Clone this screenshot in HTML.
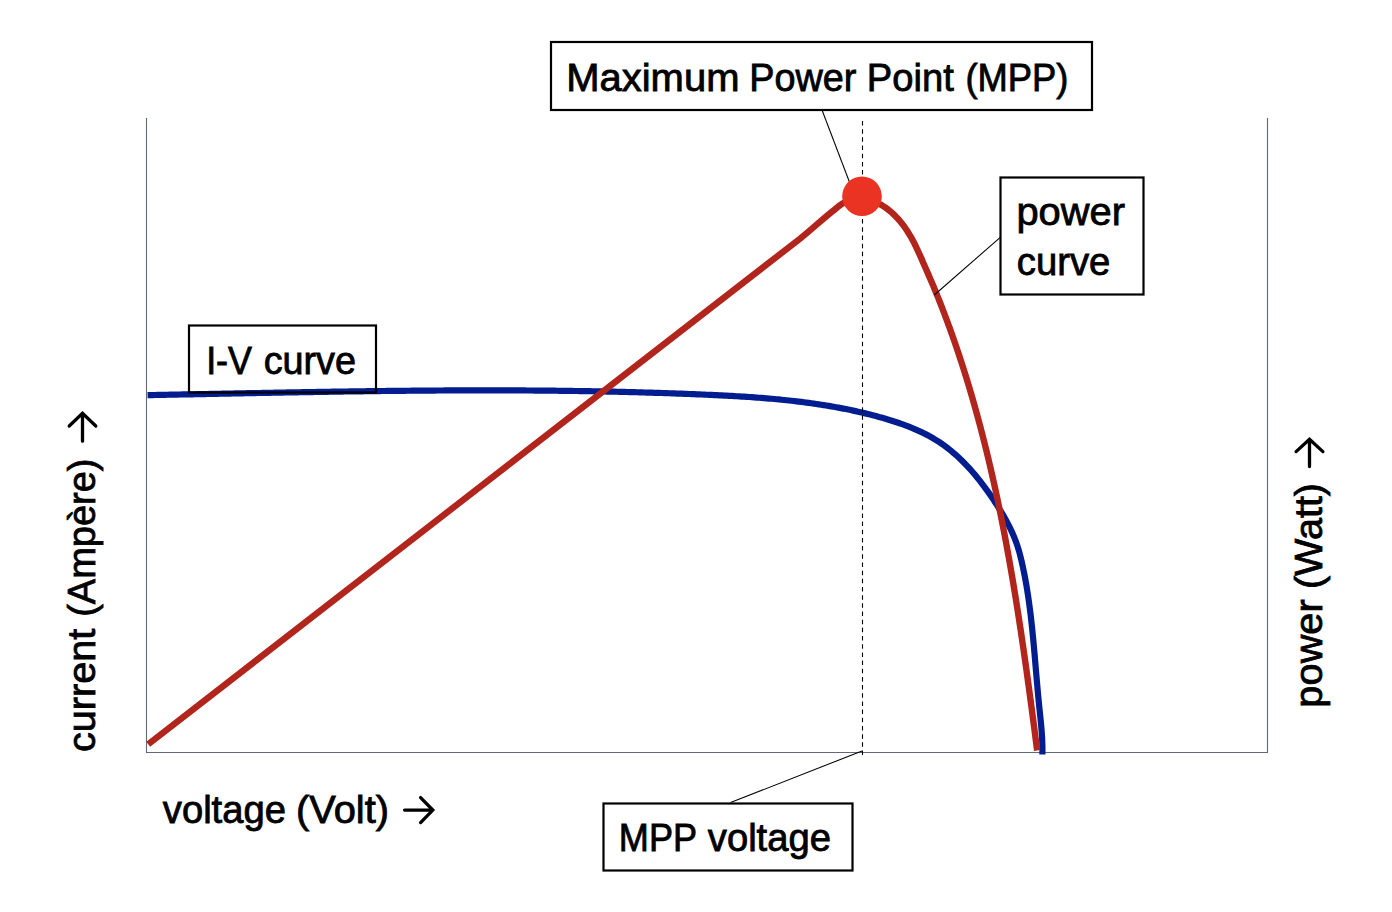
<!DOCTYPE html>
<html><head><meta charset="utf-8"><title>MPP diagram</title>
<style>
html,body{margin:0;padding:0;background:#fff;}
body{width:1392px;height:912px;position:relative;overflow:hidden;font-family:"Liberation Sans", sans-serif;}
</style></head><body>
<svg width="1392" height="912" viewBox="0 0 1392 912" style="position:absolute;left:0;top:0">
<g font-family='"Liberation Sans", sans-serif' fill="#000">
<path d="M146.5,118 V752.5 H1267.5 V118" fill="none" stroke="#5E6A7A" stroke-width="1.1"/>
<path d="M147.57,395.13 L150.07,395.09 L152.56,395.04 L155.06,394.99 L157.56,394.95 L160.06,394.90 L162.55,394.85 L165.05,394.80 L167.55,394.76 L170.04,394.71 L172.54,394.66 L175.04,394.61 L177.53,394.57 L180.03,394.52 L182.53,394.47 L185.02,394.42 L187.52,394.37 L190.02,394.33 L192.51,394.28 L195.01,394.23 L197.51,394.18 L200.00,394.13 L202.50,394.08 L205.00,394.04 L207.49,393.99 L209.99,393.94 L212.49,393.89 L214.98,393.84 L217.48,393.79 L219.98,393.74 L222.47,393.70 L224.97,393.65 L227.47,393.60 L229.96,393.55 L232.46,393.50 L234.96,393.45 L237.46,393.41 L239.95,393.36 L242.45,393.31 L244.95,393.26 L247.44,393.21 L249.94,393.17 L252.44,393.12 L254.93,393.07 L257.43,393.02 L259.93,392.98 L262.42,392.93 L264.92,392.88 L267.42,392.84 L269.91,392.79 L272.41,392.74 L274.91,392.70 L277.40,392.65 L279.90,392.61 L282.40,392.56 L284.89,392.52 L287.39,392.47 L289.89,392.43 L292.38,392.38 L294.88,392.34 L297.38,392.29 L299.88,392.25 L302.37,392.21 L304.87,392.16 L307.37,392.12 L309.86,392.08 L312.36,392.04 L314.86,392.00 L317.35,391.95 L319.85,391.91 L322.35,391.87 L324.84,391.83 L327.34,391.79 L329.84,391.75 L332.33,391.71 L334.83,391.67 L337.33,391.64 L339.83,391.60 L342.32,391.56 L344.82,391.52 L347.32,391.49 L349.81,391.45 L352.31,391.41 L354.81,391.38 L357.30,391.34 L359.80,391.31 L362.30,391.28 L364.80,391.24 L367.29,391.21 L369.79,391.18 L372.29,391.14 L374.78,391.11 L377.28,391.08 L379.78,391.05 L382.27,391.02 L384.77,390.99 L387.27,390.96 L389.77,390.94 L392.26,390.91 L394.76,390.88 L397.26,390.85 L399.75,390.83 L402.25,390.80 L404.75,390.78 L407.25,390.75 L409.74,390.73 L412.24,390.71 L414.74,390.69 L417.23,390.66 L419.73,390.64 L422.23,390.62 L424.73,390.60 L427.22,390.59 L429.72,390.57 L432.22,390.55 L434.71,390.53 L437.21,390.52 L439.71,390.50 L442.21,390.49 L444.70,390.47 L447.20,390.46 L449.70,390.45 L452.19,390.44 L454.69,390.43 L457.19,390.42 L459.69,390.41 L462.18,390.40 L464.68,390.39 L467.18,390.38 L469.68,390.38 L472.17,390.37 L474.67,390.37 L477.17,390.37 L479.66,390.36 L482.16,390.36 L484.66,390.36 L487.16,390.36 L489.65,390.36 L492.15,390.36 L494.65,390.37 L497.14,390.37 L499.64,390.38 L502.14,390.38 L504.64,390.39 L507.13,390.39 L509.63,390.40 L512.13,390.41 L514.63,390.42 L517.12,390.43 L519.62,390.45 L522.12,390.46 L524.61,390.47 L527.11,390.49 L529.61,390.50 L532.11,390.52 L534.60,390.54 L537.10,390.56 L539.60,390.58 L542.09,390.60 L544.59,390.62 L547.09,390.65 L549.59,390.67 L552.08,390.70 L554.58,390.72 L557.08,390.75 L559.57,390.78 L562.07,390.81 L564.57,390.84 L567.07,390.88 L569.56,390.91 L572.06,390.94 L574.56,390.98 L577.05,391.02 L579.55,391.05 L582.05,391.09 L584.54,391.13 L587.04,391.18 L589.54,391.22 L592.03,391.26 L594.53,391.31 L597.03,391.35 L599.52,391.40 L602.02,391.45 L604.52,391.50 L607.02,391.55 L609.51,391.61 L612.01,391.66 L614.51,391.72 L617.00,391.77 L619.50,391.83 L621.99,391.89 L624.49,391.95 L626.99,392.01 L629.48,392.08 L631.98,392.14 L634.48,392.21 L636.97,392.27 L639.47,392.34 L641.97,392.41 L644.46,392.48 L646.96,392.56 L649.45,392.63 L651.95,392.71 L654.45,392.78 L656.94,392.86 L659.44,392.94 L661.93,393.02 L664.43,393.10 L666.93,393.19 L669.42,393.27 L671.92,393.36 L674.41,393.45 L676.91,393.54 L679.40,393.63 L681.90,393.72 L684.40,393.82 L686.89,393.91 L689.39,394.01 L691.88,394.11 L694.38,394.21 L696.87,394.31 L699.37,394.42 L701.86,394.52 L704.36,394.63 L706.85,394.74 L709.35,394.85 L711.84,394.96 L714.34,395.08 L716.83,395.19 L719.32,395.31 L721.82,395.44 L724.31,395.56 L726.81,395.69 L729.30,395.83 L731.79,395.96 L734.29,396.10 L736.78,396.25 L739.27,396.39 L741.77,396.55 L744.26,396.70 L746.75,396.87 L749.24,397.03 L751.73,397.20 L754.22,397.38 L756.71,397.56 L759.20,397.75 L761.69,397.94 L764.18,398.14 L766.67,398.34 L769.16,398.55 L771.65,398.77 L774.14,399.00 L776.62,399.23 L779.11,399.46 L781.59,399.71 L784.08,399.96 L786.56,400.22 L789.05,400.48 L791.53,400.76 L794.01,401.04 L796.49,401.33 L798.97,401.63 L801.45,401.93 L803.92,402.25 L806.40,402.57 L808.88,402.90 L811.35,403.24 L813.82,403.60 L816.29,403.96 L818.76,404.33 L821.23,404.71 L823.70,405.10 L826.16,405.49 L828.63,405.90 L831.09,406.33 L833.55,406.76 L836.00,407.20 L838.46,407.65 L840.91,408.11 L843.37,408.59 L845.82,409.08 L848.26,409.57 L850.71,410.08 L853.15,410.60 L855.59,411.14 L858.03,411.68 L860.46,412.24 L862.89,412.81 L865.32,413.39 L867.75,413.99 L870.17,414.60 L872.59,415.22 L875.00,415.85 L877.41,416.50 L879.82,417.16 L882.23,417.84 L884.63,418.52 L887.02,419.23 L889.41,419.95 L891.80,420.69 L894.18,421.45 L896.55,422.22 L898.92,423.02 L901.28,423.84 L903.63,424.69 L905.97,425.56 L908.30,426.45 L910.62,427.37 L912.93,428.32 L915.23,429.29 L917.52,430.30 L919.79,431.34 L922.04,432.40 L924.28,433.51 L926.51,434.64 L928.71,435.81 L930.90,437.02 L933.07,438.26 L935.21,439.54 L937.33,440.86 L939.43,442.22 L941.50,443.61 L943.54,445.05 L945.56,446.52 L947.55,448.03 L949.51,449.57 L951.45,451.15 L953.36,452.76 L955.25,454.39 L957.11,456.06 L958.94,457.75 L960.75,459.48 L962.53,461.22 L964.30,462.99 L966.03,464.79 L967.74,466.60 L969.43,468.44 L971.10,470.30 L972.75,472.18 L974.37,474.08 L975.97,475.99 L977.56,477.93 L979.12,479.87 L980.66,481.84 L982.18,483.82 L983.69,485.81 L985.17,487.82 L986.64,489.84 L988.09,491.87 L989.53,493.91 L990.95,495.97 L992.35,498.03 L993.74,500.11 L995.11,502.20 L996.47,504.29 L997.82,506.39 L999.14,508.51 L1000.45,510.63 L1001.75,512.77 L1003.02,514.92 L1004.26,517.08 L1005.49,519.26 L1006.69,521.45 L1007.86,523.66 L1009.00,525.88 L1010.11,528.12 L1011.18,530.37 L1012.23,532.64 L1013.23,534.93 L1014.20,537.23 L1015.12,539.55 L1016.01,541.88 L1016.84,544.24 L1017.64,546.60 L1018.38,548.99 L1019.09,551.38 L1019.75,553.79 L1020.38,556.21 L1020.98,558.63 L1021.55,561.06 L1022.11,563.50 L1022.65,565.93 L1023.17,568.38 L1023.68,570.82 L1024.18,573.27 L1024.66,575.72 L1025.12,578.17 L1025.57,580.63 L1026.01,583.09 L1026.44,585.55 L1026.85,588.01 L1027.25,590.48 L1027.64,592.94 L1028.01,595.41 L1028.38,597.88 L1028.73,600.35 L1029.08,602.83 L1029.42,605.30 L1029.74,607.78 L1030.06,610.25 L1030.37,612.73 L1030.67,615.21 L1030.96,617.69 L1031.24,620.17 L1031.52,622.66 L1031.79,625.14 L1032.05,627.62 L1032.31,630.11 L1032.56,632.59 L1032.81,635.07 L1033.05,637.56 L1033.29,640.05 L1033.52,642.53 L1033.75,645.02 L1033.98,647.51 L1034.20,649.99 L1034.42,652.48 L1034.64,654.97 L1034.85,657.46 L1035.07,659.94 L1035.28,662.43 L1035.49,664.92 L1035.70,667.41 L1035.91,669.90 L1036.12,672.39 L1036.34,674.87 L1036.55,677.36 L1036.76,679.85 L1036.98,682.34 L1037.20,684.83 L1037.42,687.31 L1037.64,689.80 L1037.87,692.29 L1038.10,694.77 L1038.34,697.26 L1038.58,699.75 L1038.82,702.23 L1039.07,704.72 L1039.32,707.20 L1039.58,709.68 L1039.84,712.17 L1040.10,714.65 L1040.36,717.13 L1040.61,719.62 L1040.86,722.10 L1041.09,724.59 L1041.31,727.08 L1041.52,729.57 L1041.71,732.06 L1041.89,734.55 L1042.04,737.04 L1042.17,739.53 L1042.28,742.03 L1042.36,744.52 L1042.41,747.02 L1042.44,749.52 L1042.43,752.02 L1042.39,754.51" fill="none" stroke="#021D8F" stroke-width="6.2" stroke-linejoin="round"/>
<path d="M148.2,744.2 L800,238.7 C812,229.4 825,216.6 835,209.3 L836.56,207.98 L838.46,206.36 L840.46,204.87 L842.55,203.52 L844.74,202.32 L847.01,201.29 L849.35,200.42 L851.75,199.74 L854.19,199.24 L856.67,198.92 L859.16,198.78 L861.65,198.82 L864.14,199.03 L866.60,199.39 L869.04,199.92 L871.45,200.58 L873.81,201.39 L876.12,202.33 L878.38,203.38 L880.58,204.55 L882.73,205.82 L884.83,207.17 L886.86,208.62 L888.84,210.14 L890.76,211.73 L892.62,213.39 L894.43,215.11 L896.18,216.88 L897.88,218.71 L899.53,220.58 L901.12,222.50 L902.66,224.46 L904.15,226.46 L905.59,228.50 L906.98,230.57 L908.32,232.68 L909.62,234.81 L910.88,236.96 L912.10,239.14 L913.28,241.34 L914.42,243.55 L915.54,245.78 L916.63,248.03 L917.70,250.28 L918.74,252.55 L919.77,254.82 L920.79,257.10 L921.79,259.38 L922.79,261.67 L923.78,263.96 L924.77,266.25 L925.77,268.54 L926.76,270.82 L927.76,273.11 L928.76,275.40 L929.75,277.68 L930.74,279.97 L931.73,282.27 L932.71,284.56 L933.68,286.86 L934.64,289.16 L935.60,291.46 L936.54,293.77 L937.48,296.09 L938.41,298.40 L939.33,300.72 L940.24,303.04 L941.15,305.36 L942.06,307.69 L942.95,310.02 L943.85,312.35 L944.73,314.68 L945.61,317.01 L946.49,319.35 L947.35,321.69 L948.22,324.03 L949.07,326.37 L949.93,328.72 L950.77,331.06 L951.61,333.41 L952.44,335.76 L953.27,338.12 L954.10,340.47 L954.91,342.83 L955.73,345.19 L956.53,347.55 L957.33,349.91 L958.13,352.28 L958.92,354.64 L959.70,357.01 L960.48,359.38 L961.25,361.75 L962.02,364.13 L962.79,366.50 L963.54,368.88 L964.30,371.26 L965.04,373.64 L965.79,376.02 L966.52,378.40 L967.25,380.79 L967.98,383.17 L968.70,385.56 L969.42,387.95 L970.13,390.34 L970.84,392.73 L971.54,395.13 L972.24,397.52 L972.93,399.92 L973.61,402.32 L974.30,404.72 L974.97,407.12 L975.65,409.52 L976.31,411.93 L976.98,414.33 L977.64,416.74 L978.29,419.14 L978.94,421.55 L979.58,423.96 L980.22,426.37 L980.86,428.79 L981.49,431.20 L982.12,433.62 L982.74,436.03 L983.35,438.45 L983.97,440.87 L984.58,443.29 L985.18,445.71 L985.78,448.13 L986.38,450.55 L986.97,452.97 L987.56,455.40 L988.14,457.82 L988.72,460.25 L989.29,462.68 L989.86,465.11 L990.43,467.54 L990.99,469.97 L991.55,472.40 L992.11,474.83 L992.66,477.26 L993.21,479.70 L993.75,482.13 L994.29,484.57 L994.83,487.00 L995.36,489.44 L995.89,491.88 L996.41,494.32 L996.93,496.76 L997.45,499.20 L997.96,501.64 L998.47,504.08 L998.98,506.52 L999.48,508.97 L999.98,511.41 L1000.48,513.86 L1000.97,516.30 L1001.46,518.75 L1001.95,521.19 L1002.43,523.64 L1002.91,526.09 L1003.39,528.54 L1003.86,530.99 L1004.33,533.44 L1004.80,535.89 L1005.27,538.34 L1005.73,540.79 L1006.18,543.24 L1006.64,545.70 L1007.09,548.15 L1007.54,550.60 L1007.99,553.06 L1008.43,555.51 L1008.87,557.97 L1009.31,560.43 L1009.74,562.88 L1010.17,565.34 L1010.60,567.80 L1011.03,570.25 L1011.46,572.71 L1011.88,575.17 L1012.30,577.63 L1012.71,580.09 L1013.13,582.55 L1013.54,585.01 L1013.95,587.47 L1014.35,589.93 L1014.76,592.40 L1015.16,594.86 L1015.56,597.32 L1015.96,599.78 L1016.35,602.25 L1016.74,604.71 L1017.13,607.17 L1017.52,609.64 L1017.91,612.10 L1018.29,614.57 L1018.67,617.03 L1019.05,619.50 L1019.43,621.96 L1019.81,624.43 L1020.18,626.90 L1020.56,629.36 L1020.93,631.83 L1021.29,634.30 L1021.66,636.77 L1022.03,639.23 L1022.39,641.70 L1022.75,644.17 L1023.11,646.64 L1023.47,649.11 L1023.83,651.58 L1024.18,654.05 L1024.54,656.52 L1024.89,658.99 L1025.24,661.46 L1025.59,663.93 L1025.93,666.40 L1026.28,668.87 L1026.63,671.34 L1026.97,673.81 L1027.31,676.28 L1027.65,678.75 L1027.99,681.22 L1028.33,683.69 L1028.67,686.17 L1029.01,688.64 L1029.34,691.11 L1029.68,693.58 L1030.01,696.05 L1030.34,698.53 L1030.67,701.00 L1031.00,703.47 L1031.33,705.94 L1031.66,708.42 L1031.99,710.89 L1032.32,713.36 L1032.64,715.84 L1032.97,718.31 L1033.29,720.78 L1033.62,723.26 L1033.94,725.73 L1034.26,728.21 L1034.59,730.68 L1034.91,733.15 L1035.23,735.63 L1035.55,738.10 L1035.87,740.57 L1036.19,743.05 L1036.51,745.52 L1036.83,748.00 L1037.15,750.47" fill="none" stroke="#B2251D" stroke-width="6.4" stroke-linejoin="round"/>
<path d="M822,110 L850,183.5" stroke="#000" stroke-width="1.05" fill="none"/>
<path d="M1000,237.6 L934.3,295" stroke="#000" stroke-width="1.05" fill="none"/>
<path d="M730.6,802.5 L862,751" stroke="#000" stroke-width="1.05" fill="none"/>
<line x1="862.5" y1="121" x2="862.5" y2="755" stroke="#000" stroke-width="1.1" stroke-dasharray="4.5 3.675"/>
<circle cx="862" cy="196.3" r="19.8" fill="#EB3323"/>
<rect x="551" y="42" width="541" height="68" fill="none" stroke="#000" stroke-width="2.2"/>
<rect x="1000.5" y="177.5" width="143" height="117" fill="none" stroke="#000" stroke-width="2.2"/>
<rect x="189" y="325.5" width="187" height="67" fill="none" stroke="#000" stroke-width="2.2"/>
<rect x="603.5" y="803.5" width="249" height="67" fill="none" stroke="#000" stroke-width="2.2"/>
<text x="566.22" y="91.00" font-size="38.0" textLength="173.24" lengthAdjust="spacingAndGlyphs" stroke="#000" stroke-width="0.8">Maximum</text>
<text x="749.19" y="91.00" font-size="38.0" textLength="107.07" lengthAdjust="spacingAndGlyphs" stroke="#000" stroke-width="0.8">Power</text>
<text x="866.87" y="91.00" font-size="38.0" textLength="86.94" lengthAdjust="spacingAndGlyphs" stroke="#000" stroke-width="0.8">Point</text>
<text x="965.43" y="91.00" font-size="38.0" textLength="103.06" lengthAdjust="spacingAndGlyphs" stroke="#000" stroke-width="0.8">(MPP)</text>
<text x="1016.46" y="225.00" font-size="38.0" textLength="108.58" lengthAdjust="spacingAndGlyphs" stroke="#000" stroke-width="0.8">power</text>
<text x="1016.82" y="274.80" font-size="38.0" textLength="93.53" lengthAdjust="spacingAndGlyphs" stroke="#000" stroke-width="0.8">curve</text>
<text x="206.14" y="373.80" font-size="38.0" textLength="45.92" lengthAdjust="spacingAndGlyphs" stroke="#000" stroke-width="0.8">I-V</text>
<text x="263.63" y="373.80" font-size="38.0" textLength="92.40" lengthAdjust="spacingAndGlyphs" stroke="#000" stroke-width="0.8">curve</text>
<text x="162.80" y="822.50" font-size="38.0" textLength="123.15" lengthAdjust="spacingAndGlyphs" stroke="#000" stroke-width="0.8">voltage</text>
<text x="296.06" y="822.50" font-size="38.0" textLength="92.91" lengthAdjust="spacingAndGlyphs" stroke="#000" stroke-width="0.8">(Volt)</text>
<path d="M404.6,810.1 H431.8 M420.6,797.6 L432.8,810.1 L420.6,822.6" fill="none" stroke="#000" stroke-width="3.3" stroke-linecap="round" stroke-linejoin="miter"/>
<text x="618.82" y="850.50" font-size="38.0" textLength="78.28" lengthAdjust="spacingAndGlyphs" stroke="#000" stroke-width="0.8">MPP</text>
<text x="707.80" y="850.50" font-size="38.0" textLength="123.15" lengthAdjust="spacingAndGlyphs" stroke="#000" stroke-width="0.8">voltage</text>
<g transform="translate(95.3,751) rotate(-90)"><text x="-1.02" y="0.00" font-size="38.0" textLength="123.30" lengthAdjust="spacingAndGlyphs" stroke="#000" stroke-width="0.8">current</text><text x="134.15" y="0.00" font-size="38.0" textLength="158.36" lengthAdjust="spacingAndGlyphs" stroke="#000" stroke-width="0.8">(Ampère)</text></g>
<path d="M82.5,441.2 V414.2 M69.2,426.0 L82.5,413.2 L95.8,426.0" fill="none" stroke="#000" stroke-width="3.3" stroke-linecap="round" stroke-linejoin="miter"/>
<g transform="translate(1322.4,705.6) rotate(-90)"><text x="-2.04" y="0.00" font-size="38.0" textLength="108.38" lengthAdjust="spacingAndGlyphs" stroke="#000" stroke-width="0.8">power</text><text x="116.57" y="0.00" font-size="38.0" textLength="106.05" lengthAdjust="spacingAndGlyphs" stroke="#000" stroke-width="0.8">(Watt)</text></g>
<path d="M1309.5,466.6 V440.3 M1296.1,451.6 L1309.5,439.3 L1322.9,451.6" fill="none" stroke="#000" stroke-width="3.3" stroke-linecap="round" stroke-linejoin="miter"/>
</g></svg>
</body></html>
